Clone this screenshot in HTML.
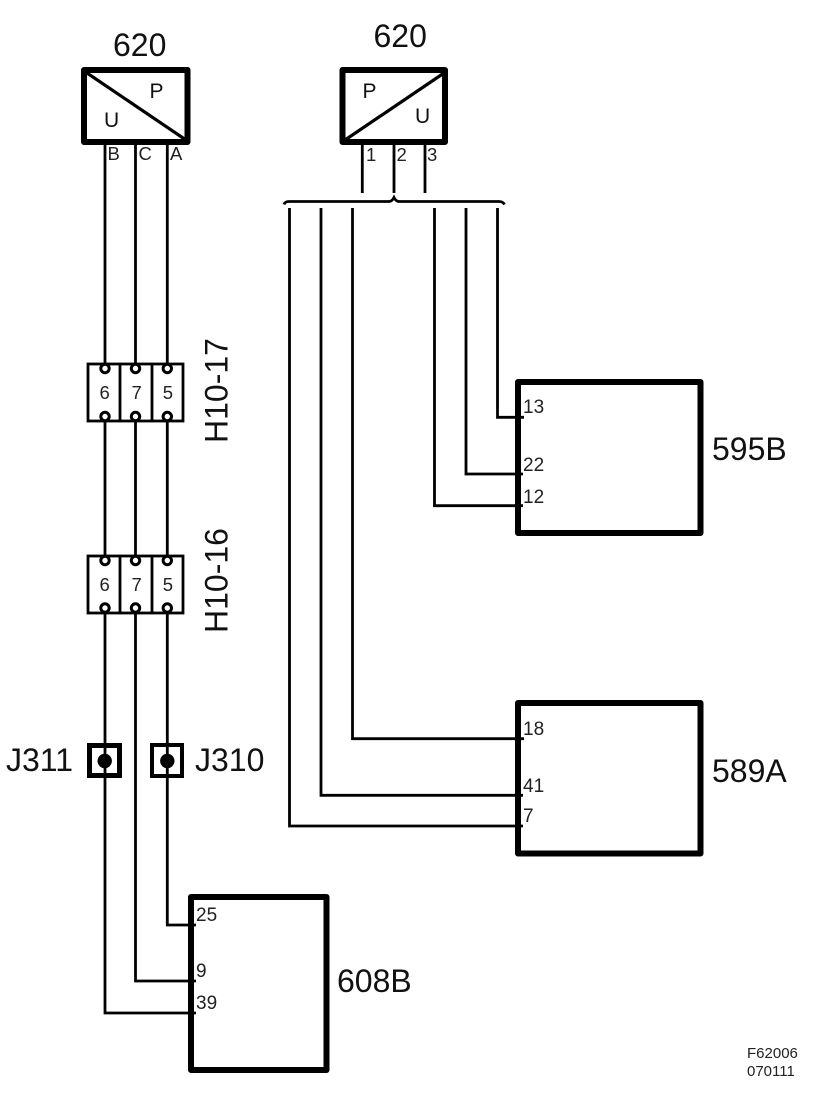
<!DOCTYPE html>
<html>
<head>
<meta charset="utf-8">
<style>
html,body{margin:0;padding:0;background:#fff;width:818px;height:1106px;overflow:hidden}
svg{display:block}
text{font-family:"Liberation Sans",Arial,sans-serif;fill:#111}
.b{font-size:32px}
.m{font-size:21px}
.s{font-size:18.500px;fill:#222}
.n{font-size:19px;fill:#222}
.f{font-size:15px;fill:#222}
.w{fill:none;stroke:#000;stroke-width:2.800}
.k{fill:none;stroke:#000;stroke-width:6;stroke-linejoin:round}
.c{fill:none;stroke:#000;stroke-width:2.800}
.o{fill:#fff;stroke:#000;stroke-width:3}
</style>
</head>
<body>
<svg width="818" height="1106" viewBox="0 0 818 1106" xmlns="http://www.w3.org/2000/svg">
<rect width="818" height="1106" fill="#fff"/>

<!-- left sensor wires -->
<path class="w" d="M105 145V364M135.500 145V364M167.300 145V364"/>
<path class="w" d="M105 421V556M135.500 421V556M167.300 421V556"/>
<path class="w" d="M105 613V1013H196M135.500 613V981H196M167.300 613V925H196"/>

<!-- left 620 -->
<rect class="k" x="84" y="70" width="103.500" height="72"/>
<path d="M87 73L186 140" stroke="#000" stroke-width="3.200" fill="none"/>
<text class="b" x="113" y="56">620</text>
<text class="m" x="149.500" y="98">P</text>
<text class="m" x="104" y="127">U</text>
<text class="s" x="107.500" y="160">B</text>
<text class="s" x="138.500" y="160">C</text>
<text class="s" x="170" y="160">A</text>

<!-- right 620 -->
<rect class="k" x="342.500" y="70" width="102.500" height="72"/>
<path d="M345 140L444 73" stroke="#000" stroke-width="3.200" fill="none"/>
<text class="b" x="373.500" y="47">620</text>
<text class="m" x="362.500" y="98">P</text>
<text class="m" x="415" y="123">U</text>
<path class="w" d="M362.300 145V193M394 145V193M425 145V193"/>
<text class="s" x="366" y="161">1</text>
<text class="s" x="396.500" y="161">2</text>
<text class="s" x="427" y="161">3</text>

<!-- brace -->
<path d="M284 204.500Q285 201.500 289 201.500H389Q392 201.500 394 197.500Q396 201.500 399 201.500H499Q503 201.500 504.500 204.500" fill="none" stroke="#000" stroke-width="2.800"/>

<!-- right wires -->
<path class="w" d="M497.500 208V417.300H524"/>
<path class="w" d="M466 208V474H523"/>
<path class="w" d="M434.500 208V505.700H523"/>
<path class="w" d="M352.500 208V738.700H524"/>
<path class="w" d="M321 208V795.300H523"/>
<path class="w" d="M289.500 208V826H523"/>

<!-- H10-17 -->
<rect class="c" x="88" y="364" width="95" height="57"/>
<path class="c" d="M120 364V421M152 364V421"/>
<circle class="o" cx="105" cy="368.500" r="4.200"/><circle class="o" cx="135.500" cy="368.500" r="4.200"/><circle class="o" cx="167.300" cy="368.500" r="4.200"/>
<circle class="o" cx="105" cy="416.500" r="4.200"/><circle class="o" cx="135.500" cy="416.500" r="4.200"/><circle class="o" cx="167.300" cy="416.500" r="4.200"/>
<text class="s" x="99.500" y="399">6</text>
<text class="s" x="131.500" y="399">7</text>
<text class="s" x="162.800" y="399">5</text>
<text class="b" transform="translate(227.500 443) rotate(-90)">H10-17</text>

<!-- H10-16 -->
<rect class="c" x="88" y="556" width="95" height="57"/>
<path class="c" d="M120 556V613M152 556V613"/>
<circle class="o" cx="105" cy="560.500" r="4.200"/><circle class="o" cx="135.500" cy="560.500" r="4.200"/><circle class="o" cx="167.300" cy="560.500" r="4.200"/>
<circle class="o" cx="105" cy="608" r="4.200"/><circle class="o" cx="135.500" cy="608" r="4.200"/><circle class="o" cx="167.300" cy="608" r="4.200"/>
<text class="s" x="99.500" y="591">6</text>
<text class="s" x="131.500" y="591">7</text>
<text class="s" x="162.800" y="591">5</text>
<text class="b" transform="translate(227.500 633) rotate(-90)">H10-16</text>

<!-- J311 / J310 -->
<rect x="89.500" y="745.500" width="30" height="30" fill="#fff" stroke="#000" stroke-width="5"/>
<rect x="152" y="745" width="30" height="31" fill="#fff" stroke="#000" stroke-width="4"/>
<path class="w" d="M105 745V778M167.300 745V778"/>
<circle cx="104.700" cy="761" r="7.200" fill="#000"/>
<circle cx="167.300" cy="761" r="7.200" fill="#000"/>
<text class="b" x="6" y="771">J311</text>
<text class="b" x="195" y="771">J310</text>

<!-- 608B -->
<rect class="k" x="191" y="897" width="135.500" height="173"/>
<text class="n" x="196" y="921">25</text>
<text class="n" x="196" y="977">9</text>
<text class="n" x="196" y="1009">39</text>
<text class="b" x="337" y="992">608B</text>

<!-- 595B -->
<rect class="k" x="518" y="382" width="182.500" height="151"/>
<text class="n" x="523" y="413">13</text>
<text class="n" x="523" y="471">22</text>
<text class="n" x="523" y="503">12</text>
<text class="b" x="712" y="460">595B</text>

<!-- 589A -->
<rect class="k" x="518" y="703" width="182.500" height="150.500"/>
<text class="n" x="523" y="735">18</text>
<text class="n" x="523" y="792">41</text>
<text class="n" x="523" y="822">7</text>
<text class="b" x="712" y="782">589A</text>

<text class="f" x="747" y="1058">F62006</text>
<text class="f" x="747" y="1076">070111</text>
</svg>
</body>
</html>
